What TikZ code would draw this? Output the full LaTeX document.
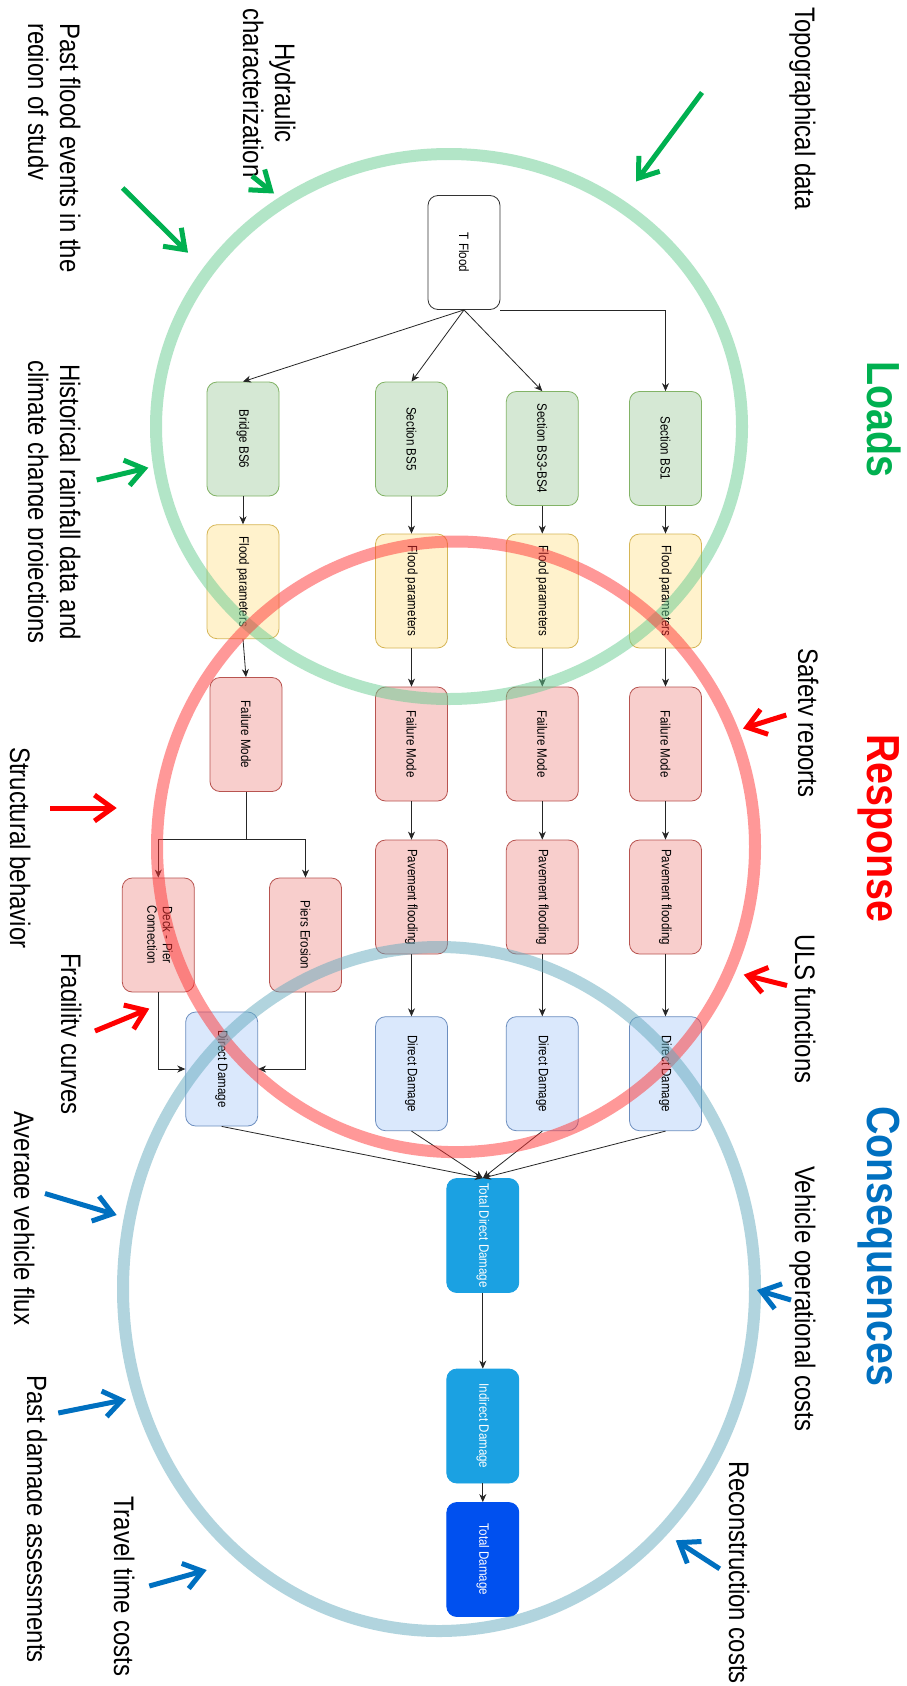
\documentclass[tikz,border=0pt]{standalone}
\usepackage{fontspec}
\setmainfont{Liberation Sans}[FakeStretch=0.85]
\usepackage{graphicx}
\usetikzlibrary{arrows.meta}

\definecolor{gfill}{HTML}{D5E8D4}
\definecolor{gline}{HTML}{82B366}
\definecolor{yfill}{HTML}{FFF2CC}
\definecolor{yline}{HTML}{D6B656}
\definecolor{rfill}{HTML}{F8CECC}
\definecolor{rline}{HTML}{B85450}
\definecolor{bfill}{HTML}{DAE8FC}
\definecolor{bline}{HTML}{6C8EBF}
\definecolor{cyanfill}{HTML}{1BA1E2}
\definecolor{deepfill}{HTML}{0050EF}
\definecolor{ringG}{HTML}{66CC91}
\definecolor{ringR}{HTML}{FF3333}
\definecolor{ringB}{HTML}{64AABE}
\definecolor{loadsG}{HTML}{00B050}
\definecolor{respR}{HTML}{FF0000}
\definecolor{consB}{HTML}{0070C0}

\newcommand{\vtext}[1]{\rotatebox{-90}{#1}}

\tikzset{
  box/.style={draw, rounded corners=10pt, minimum width=72pt, minimum height=114pt,
    inner sep=0pt, line width=0.8pt, font=\fontsize{13.6}{15.5}\selectfont},
  origbox/.style={box, fill=white, draw=black!80},
  sect/.style={box, fill=gfill, draw=gline},
  param/.style={box, fill=yfill, draw=yline},
  resp/.style={box, fill=rfill, draw=rline},
  dmg/.style={box, fill=bfill, draw=bline},
  tot/.style={box, fill=cyanfill, draw=cyanfill, text=white},
  fin/.style={box, fill=deepfill, draw=deepfill, text=white},
  conn/.style={draw=black!85, line width=0.8pt, -{Stealth[length=8pt,width=7pt,inset=2.5pt]}},
  ring/.style={line width=12pt, draw opacity=0.5},
  lab/.style={rotate=-90, inner sep=0pt, font=\fontsize{28.2}{34}\selectfont},
  ttl/.style={rotate=-90, inner sep=0pt, font=\fontsize{46.4}{56}\selectfont\bfseries},
  feed/.style={line width=5pt, -{Straight Barb[length=18pt,width=26pt]}},
}

\begin{document}
\begin{tikzpicture}[x=1pt, y=-1pt]
\useasboundingbox (0,0) rectangle (906,1686);
\fill[white] (0,0) rectangle (906,1686);

% ---- flow boxes ----
\node[origbox] (tf) at (464,252.5) {\vtext{T Flood}};

\node[sect] (s6)  at (243,439)     {\vtext{Bridge BS6}};
\node[sect] (s5)  at (411.5,439)   {\vtext{Section BS5}};
\node[sect] (s34) at (542.3,448.5) {\vtext{Section BS3-BS4}};
\node[sect] (s1)  at (665.5,448.5) {\vtext{Section BS1}};

\node[param] (p6)  at (243,581.7) {\vtext{Flood parameters}};
\node[param] (p5)  at (411.5,591) {\vtext{Flood parameters}};
\node[param] (p34) at (542.3,591) {\vtext{Flood parameters}};
\node[param] (p1)  at (665.5,591) {\vtext{Flood parameters}};

\node[resp] (f6)  at (246,734.5) {\vtext{Failure Mode}};
\node[resp] (f5)  at (411.5,744) {\vtext{Failure Mode}};
\node[resp] (f34) at (542.3,744) {\vtext{Failure Mode}};
\node[resp] (f1)  at (665.5,744) {\vtext{Failure Mode}};

\node[resp] (dk) at (158.3,935) {\vtext{\begin{tabular}{@{}c@{}}Deck - Pier\\Connection\end{tabular}}};
\node[resp] (pe) at (305.5,935) {\vtext{Piers Erosion}};
\node[resp] (v5)  at (411.5,897) {\vtext{Pavement flooding}};
\node[resp] (v34) at (542.3,897) {\vtext{Pavement flooding}};
\node[resp] (v1)  at (665.5,897) {\vtext{Pavement flooding}};

\node[dmg] (d6)  at (221.7,1069)   {\vtext{Direct Damage}};
\node[dmg] (d5)  at (411.5,1073.7) {\vtext{Direct Damage}};
\node[dmg] (d34) at (542.3,1073.7) {\vtext{Direct Damage}};
\node[dmg] (d1)  at (665.5,1073.7) {\vtext{Direct Damage}};

\node[tot] (td) at (482.8,1235.5) {\vtext{Total Direct Damage}};
\node[tot] (id) at (482.8,1426)   {\vtext{Indirect Damage}};
\node[fin] (tt) at (482.8,1559.5) {\vtext{Total Damage}};

% ---- connectors ----
\draw[conn] (tf.south east) -| (s1.north);
\draw[conn] (tf.south) -- (s34.north);
\draw[conn] (tf.south) -- (s5.north);
\draw[conn] (tf.south) -- (s6.north);

\foreach \c in {6,5,34,1} {
  \draw[conn] (s\c.south) -- (p\c.north);
  \draw[conn] (p\c.south) -- (f\c.north);
}
\foreach \c in {5,34,1} {
  \draw[conn] (f\c.south) -- (v\c.north);
  \draw[conn] (v\c.south) -- (d\c.north);
}

\coordinate (split) at (246,839);
\draw[conn] (f6.south) -- (split) -| (dk.north);
\draw[conn] (f6.south) -- (split) -| (pe.north);
\draw[conn] (dk.south) |- (d6.west);
\draw[conn] (pe.south) |- (d6.east);

\foreach \c in {6,5,34,1} {
  \draw[conn] (d\c.south) -- (td.north);
}
\draw[conn] (td.south) -- (id.north);
\draw[conn] (id.south) -- (tt.north);

% ---- stage rings ----
\draw[ring, draw=ringG] (449,426.5) ellipse [x radius=293, y radius=272.5];
\draw[ring, draw=ringR] (456,846.8) ellipse [x radius=299, y radius=305.3];
\draw[ring, draw=ringB] (439,1289)  ellipse [x radius=316, y radius=342];

% ---- stage titles ----
\node[ttl, text=loadsG, anchor=base west] (tload) at (867,361)  {Loads};
\node[ttl, text=respR,  anchor=base west] (tresp) at (867,734)  {Response};
\node[ttl, text=consB,  anchor=base west] (tcons) at (867,1106) {Consequences};

% ---- input labels ----
\node[lab, anchor=base west] (ltopo) at (795,7) {Topographical data};
\node[lab, anchor=base] (lhyd1) at (275,93) {Hydraulic};
\node[lab, anchor=base] (lhyd2) at (243,93) {characterization};
\node[lab, anchor=base west] (lpast1) at (60,23) {Past flood events in the};
\begin{scope}
  \clip (28,0) rectangle (200,320);
  \node[lab, anchor=base west] (lpast2) at (28,23) {region of study};
\end{scope}
\node[lab, anchor=base] (lhist1) at (60,502) {Historical rainfall data and};
\begin{scope}
  \clip (28,340) rectangle (200,670);
  \node[lab, anchor=base] (lhist2) at (28,502) {climate change projections};
\end{scope}
\begin{scope}
  \clip (798,630) rectangle (860,820);
  \node[lab, anchor=base west] (lsafe) at (798,648) {Safety reports};
\end{scope}
\node[lab, anchor=base west] (luls) at (795,934) {ULS functions};
\node[lab, anchor=base west] (lveh) at (795,1166) {Vehicle operational costs};
\node[lab, anchor=base west] (lrec) at (729,1461) {Reconstruction costs};
\node[lab, anchor=base west] (lstr) at (10,747) {Structural behavior};
\begin{scope}
  \clip (61,930) rectangle (120,1130);
  \node[lab, anchor=base west] (lfrag) at (61,953) {Fragility curves};
\end{scope}
\begin{scope}
  \clip (14,1090) rectangle (80,1340);
  \node[lab, anchor=base west] (lavg) at (14,1111) {Average vehicle flux};
\end{scope}
\begin{scope}
  \clip (27,1355) rectangle (90,1686);
  \node[lab, anchor=base west] (ldam) at (27,1375) {Past damage assessments};
\end{scope}
\node[lab, anchor=base west] (ltrav) at (114,1496) {Travel time costs};

% ---- input arrows ----
\coordinate (g1a) at (702,92.5);   \coordinate (g1b) at (636,181.5);
\coordinate (g2a) at (252,176);    \coordinate (g2b) at (274,193.5);
\coordinate (g3a) at (122.7,188);  \coordinate (g3b) at (188,252.7);
\coordinate (g4a) at (96.7,480);   \coordinate (g4b) at (148.3,467.7);
\draw[feed, draw=loadsG] (g1a) -- (g1b);
\draw[feed, draw=loadsG] (g2a) -- (g2b);
\draw[feed, draw=loadsG] (g3a) -- (g3b);
\draw[feed, draw=loadsG] (g4a) -- (g4b);

\coordinate (r1a) at (786.3,715);  \coordinate (r1b) at (743,728.5);
\coordinate (r2a) at (787,985.5);  \coordinate (r2b) at (743.7,974.7);
\coordinate (r3a) at (50,808);     \coordinate (r3b) at (116.7,808);
\coordinate (r4a) at (95,1031);    \coordinate (r4b) at (149.3,1008.6);
\draw[feed, draw=respR] (r1a) -- (r1b);
\draw[feed, draw=respR] (r2a) -- (r2b);
\draw[feed, draw=respR] (r3a) -- (r3b);
\draw[feed, draw=respR] (r4a) -- (r4b);

\coordinate (b1a) at (791,1300);     \coordinate (b1b) at (757,1290);
\coordinate (b2a) at (719.7,1568.8); \coordinate (b2b) at (675.7,1540.3);
\coordinate (b3a) at (45,1193.5);    \coordinate (b3b) at (116.7,1215);
\coordinate (b4a) at (58.3,1413);    \coordinate (b4b) at (126,1399.5);
\coordinate (b5a) at (149.3,1586);   \coordinate (b5b) at (206.7,1570);
\draw[feed, draw=consB] (b1a) -- (b1b);
\draw[feed, draw=consB] (b2a) -- (b2b);
\draw[feed, draw=consB] (b3a) -- (b3b);
\draw[feed, draw=consB] (b4a) -- (b4b);
\draw[feed, draw=consB] (b5a) -- (b5b);
\end{tikzpicture}
\end{document}
